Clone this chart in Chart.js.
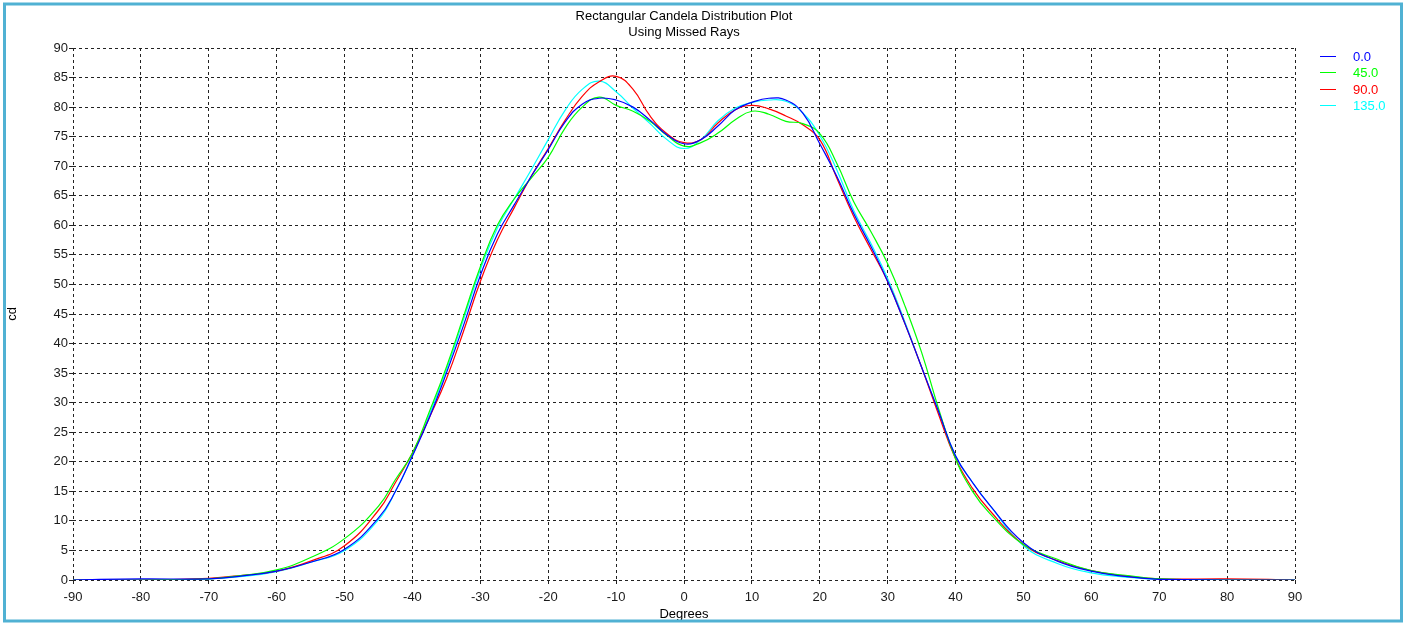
<!DOCTYPE html>
<html>
<head>
<meta charset="utf-8">
<script src="https://cdn.jsdelivr.net/npm/chart.js@4.4.0/dist/chart.umd.min.js"></script>
<style>
  html, body { margin: 0; padding: 0; background: #fff; }
  #plot { display: block; }
</style>
</head>
<body>
<canvas id="plot" width="1409" height="623"></canvas>
<script>
const degrees = [-90, -80, -70, -65, -60, -55, -50, -45, -42.5, -40, -37.5, -35, -32.5, -30, -27.5, -25, -22.5, -20,
  -17.5, -15, -12.5, -10, -7.5, -5, -2.5, 0, 2.5, 5, 7.5, 10, 12.5, 15, 17.5, 20,
  22.5, 25, 27.5, 30, 32.5, 35, 37.5, 40, 42.5, 45, 50, 55, 60, 65, 70, 80, 90];

// candela values for each plane
const cd0 = [0, 0.2, 0.2, 0.7, 1.5, 3, 5.2, 10.5, 15, 21, 27.5, 35, 43, 51.5, 58.5, 63.5, 68.3, 72.8,
  77.5, 80.5, 81.5, 81.2, 80, 77.8, 75.3, 73.8, 74.5, 76.8, 79.5, 80.8, 81.5, 81.2, 79, 73.8,
  68.3, 62, 56.5, 50.5, 43.5, 36, 28.5, 21, 16.5, 12.7, 6.3, 3.2, 1.5, 0.6, 0.1, 0, 0];
const cd45 = [0, 0, 0.2, 0.8, 1.7, 3.8, 7, 12.5, 17, 21.5, 28.5, 36, 44.5, 53, 60, 64.5, 68, 71.5,
  76.5, 80, 81.7, 80.3, 79.3, 77.6, 75.2, 73.4, 74, 75.6, 77.8, 79.3, 78.8, 77.6, 77.2, 75.5,
  70.5, 64, 59, 53.5, 46.5, 38.5, 29, 20.5, 15, 11.3, 6, 3.5, 1.6, 0.8, 0.2, 0, 0];
const cd90 = [0, 0, 0.3, 0.8, 1.5, 3.2, 5.8, 11.8, 16.5, 21.5, 27.5, 34, 42, 50.5, 57.5, 63, 68.3, 73,
  77.8, 81.8, 84.3, 85.2, 83, 78.5, 75.5, 74, 74.5, 77.3, 79.5, 80.3, 79.7, 78.5, 77, 74.5,
  68, 61.5, 56, 50.5, 43.5, 36, 28, 20.5, 15.5, 11.8, 6, 3.3, 1.6, 0.7, 0.2, 0.2, 0];
const cd135 = [0, 0, 0.2, 0.6, 1.4, 3, 5, 10.2, 15, 21, 28, 35.5, 44, 52.5, 59.5, 64.5, 69.4, 74.5,
  79.5, 83, 84.4, 82.6, 79.8, 77.2, 74.5, 73, 74.5, 77.7, 79.8, 80.8, 81.2, 81, 79, 75.2,
  69.4, 62.5, 57, 51, 43.8, 36, 28.5, 21, 16.5, 12.7, 5.8, 2.8, 1.2, 0.5, 0.1, 0, 0];

const planeLabels = ['0.0', '45.0', '90.0', '135.0'];
const planeColors = ['#0000ff', '#00ff00', '#ff0000', '#00ffff'];
const planeValues = [cd0, cd45, cd90, cd135];

function toPoints(vals) {
  return degrees.map((d, i) => ({ x: d, y: vals[i] }));
}

// Legend on the right side and the blue frame round the whole picture
const extrasPlugin = {
  id: 'extras',
  afterDraw(chart) {
    const ctx = chart.ctx;
    ctx.save();
    ctx.strokeStyle = '#50b1d3';
    ctx.lineWidth = 3;
    ctx.strokeRect(4.5, 4, 1397, 617);

    const rows = [56, 72, 89, 105];
    ctx.font = '13px "Liberation Sans", Arial, sans-serif';
    ctx.textBaseline = 'middle';
    ctx.textAlign = 'left';
    chart.data.datasets.forEach((ds, i) => {
      ctx.strokeStyle = ds.borderColor;
      ctx.lineWidth = 1;
      ctx.beginPath();
      ctx.moveTo(1320, rows[i] + 0.5);
      ctx.lineTo(1336, rows[i] + 0.5);
      ctx.stroke();
      ctx.fillStyle = ds.borderColor;
      ctx.fillText(ds.label, 1353, rows[i] + 1);
    });
    ctx.restore();
  }
};

const fontSpec = { family: '"Liberation Sans", Arial, sans-serif', size: 13 };

new Chart(document.getElementById('plot'), {
  type: 'line',
  data: {
    datasets: planeValues.map((vals, i) => ({
      label: planeLabels[i],
      data: toPoints(vals),
      borderColor: planeColors[i],
      backgroundColor: planeColors[i],
      borderWidth: 1.2,
      pointRadius: 0,
      tension: 0.45,
      fill: false
    }))
  },
  options: {
    responsive: false,
    animation: false,
    devicePixelRatio: 1,
    layout: { padding: { left: 0, right: 114, top: 0, bottom: 0 } },
    plugins: {
      legend: { display: false },
      tooltip: { enabled: false },
      title: {
        display: true,
        fullSize: false,
        text: ['Rectangular Candela Distribution Plot', 'Using Missed Rays'],
        color: '#000',
        font: { family: fontSpec.family, size: 13, weight: 'normal', lineHeight: 16 / 13 },
        padding: { top: 8, bottom: 8 }
      }
    },
    scales: {
      x: {
        type: 'linear',
        min: -90,
        max: 90,
        afterFit(scale) { scale.height = 43; },
        ticks: { stepSize: 10, color: '#1a1a1a', font: fontSpec, padding: 6, maxRotation: 0 },
        grid: { color: '#222', lineWidth: 1, tickLength: 4, tickColor: '#222' },
        border: { display: false, dash: [3, 3] },
        title: { display: true, text: 'Degrees', color: '#000', font: fontSpec, padding: { top: 0, bottom: 1 } }
      },
      y: {
        min: 0,
        max: 90,
        afterFit(scale) { scale.width = 73; },
        ticks: { stepSize: 5, color: '#1a1a1a', font: fontSpec, padding: 1 },
        grid: { color: '#222', lineWidth: 1, tickLength: 4, tickColor: '#222' },
        border: { display: false, dash: [3, 3] },
        title: { display: true, text: 'cd', color: '#000', font: fontSpec, padding: { top: 5, bottom: 0 } }
      }
    }
  },
  plugins: [extrasPlugin]
});
</script>
</body>
</html>
